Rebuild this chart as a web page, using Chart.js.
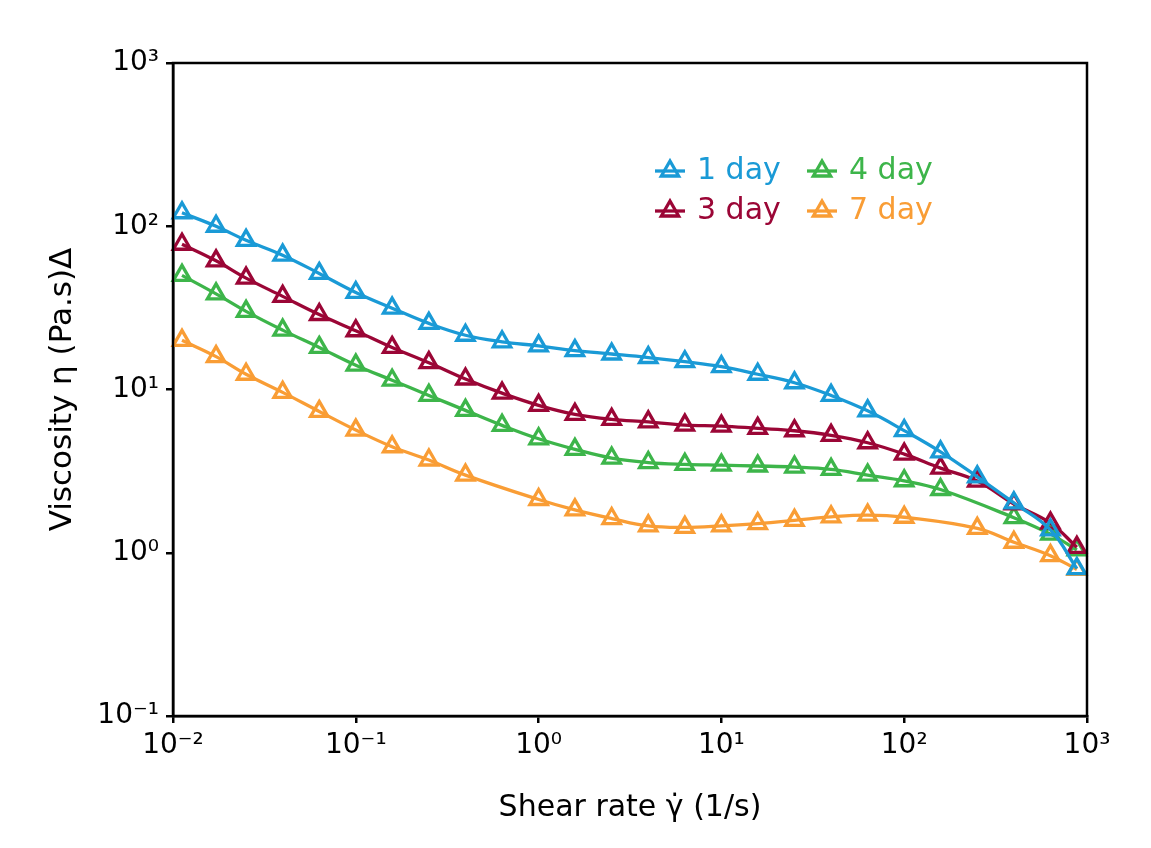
<!DOCTYPE html>
<html>
<head>
<meta charset="utf-8">
<title>Viscosity vs shear rate</title>
<script src="https://cdn.jsdelivr.net/npm/chart.js@4.4.1/dist/chart.umd.min.js"></script>
<style>
  html, body { margin: 0; padding: 0; background: #ffffff; }
  #wrap { width: 1151px; height: 848px; }
</style>
</head>
<body>
<div id="wrap"><canvas id="graficoviscosidade" width="1151" height="848"></canvas></div>
<script>
// shear rate (1/s) shared by all series; null = no measured point there
const shearRate = [0.0112, 0.0172, 0.0251, 0.0398, 0.0631, 0.1, 0.158, 0.251, 0.398, 0.631,
    1, 1.58, 2.51, 3.98, 6.31, 10, 15.8, 25.1, 39.8, 63.1,
    100, 158, 251, 398, 631, 880];

const day1 = [121, 100, 82, 66.5, 51.4, 39.3, 31.5, 25.4, 21.5, 19.6,
    18.5, 17.3, 16.5, 15.7, 14.8, 13.8, 12.4, 11.0, 9.2, 7.4,
    5.6, 4.15, 2.92, 2.02, 1.38, 0.80];
const day3 = [77.6, 61.4, 48.1, 37.2, 28.8, 22.9, 18.1, 14.6, 11.6, 9.5,
    8.0, 7.04, 6.56, 6.34, 6.05, 5.97, 5.78, 5.59, 5.24, 4.72,
    4.02, 3.3, 2.75, 1.99, 1.52, 1.08];
const day4 = [50, 38.5, 30.1, 23.1, 18.1, 14.1, 11.4, 9.2, 7.45, 6.03,
    4.99, 4.30, 3.80, 3.57, 3.48, 3.44, 3.40, 3.35, 3.24, 2.99,
    2.76, 2.44, null, 1.64, 1.30, 1.04];
const day7 = [20, 15.9, 12.4, 9.6, 7.34, 5.64, 4.46, 3.70, 2.99, null,
    2.12, 1.83, 1.62, 1.46, 1.43, 1.46, 1.51, 1.58, 1.66, 1.70,
    1.65, null, 1.41, 1.16, 0.96, 0.79];

const seriesLabels = ["1 day", "3 day", "4 day", "7 day"];
const seriesColors = ["#1a9ad6", "#9b0636", "#3db54a", "#f99d35"];

const xTicks = [0.01, 0.1, 1, 10, 100, 1000];
const xTickLabels = ["10⁻²", "10⁻¹", "10⁰", "10¹", "10²", "10³"];
const yTicks = [0.1, 1, 10, 100, 1000];
const yTickLabels = ["10⁻¹", "10⁰", "10¹", "10²", "10³"];

const fonte = "'DejaVu Sans', sans-serif";

function montarSerie(valores, i) {
    return {
        label: seriesLabels[i],
        data: shearRate.map((x, k) => ({ x: x, y: valores[k] })),
        borderColor: seriesColors[i],
        backgroundColor: "rgba(0,0,0,0)",
        borderWidth: 3.3,
        pointStyle: "triangle",
        pointRadius: 10,
        pointBorderWidth: 3.3,
        pointBackgroundColor: "rgba(0,0,0,0)",
        tension: 0.4,
        spanGaps: true,
        clip: false
    };
}

// 2x2 legend inside the plot, like the original
const legendaPlugin = {
    id: "legendaGrade",
    afterDraw(chart) {
        const ctx = chart.ctx;
        const cols = [655, 807];
        const rows = [171, 211];
        // [row, col] per series: 1 day, 3 day, 4 day, 7 day
        const slots = [[0, 0], [1, 0], [0, 1], [1, 1]];
        ctx.save();
        slots.forEach((s, i) => {
            const x = cols[s[1]];
            const y = rows[s[0]];
            ctx.strokeStyle = seriesColors[i];
            ctx.lineWidth = 3.3;
            ctx.beginPath();
            ctx.moveTo(x, y);
            ctx.lineTo(x + 30, y);
            ctx.stroke();
            ctx.fillStyle = "rgba(0,0,0,0)";
            Chart.helpers.drawPoint(ctx, { pointStyle: "triangle", radius: 10, borderWidth: 3.3 }, x + 15, y);
            ctx.fillStyle = seriesColors[i];
            ctx.font = "30px " + fonte;
            ctx.textBaseline = "middle";
            ctx.textAlign = "left";
            ctx.fillText(seriesLabels[i], x + 42, y);
        });
        ctx.restore();
    }
};

const moldura = {
    id: "moldura",
    afterDraw(chart) {
        const a = chart.chartArea;
        const ctx = chart.ctx;
        ctx.save();
        ctx.strokeStyle = "#000";
        ctx.lineWidth = 2.5;
        ctx.strokeRect(a.left, a.top, a.right - a.left, a.bottom - a.top);
        ctx.restore();
    }
};

const ctx = document.getElementById("graficoviscosidade").getContext("2d");
new Chart(ctx, {
    type: "line",
    data: {
        datasets: [day1, day3, day4, day7].map(montarSerie)
    },
    options: {
        responsive: false,
        animation: false,
        devicePixelRatio: 1,
        layout: { padding: { left: 0, top: 63, right: 64, bottom: 0 } },
        plugins: {
            legend: { display: false },
            tooltip: { enabled: false }
        },
        scales: {
            x: {
                type: "logarithmic",
                position: "bottom",
                min: 0.01,
                max: 1000,
                afterBuildTicks: s => { s.ticks = xTicks.map(v => ({ value: v })); },
                afterFit: s => { s.height = 132; },
                grid: { drawOnChartArea: false, drawTicks: true, tickLength: 7, color: "#000", lineWidth: 2.5 },
                border: { display: true, color: "#000", width: 2.5 },
                ticks: {
                    color: "#000",
                    font: { family: fonte, size: 28 },
                    padding: 6,
                    autoSkip: false,
                    maxRotation: 0,
                    callback: (v, i) => xTickLabels[i]
                },
                title: {
                    display: true,
                    text: "Shear rate γ̇ (1/s)",
                    color: "#000",
                    font: { family: fonte, size: 30 },
                    padding: { top: 0, bottom: 22 }
                }
            },
            y: {
                type: "logarithmic",
                position: "left",
                min: 0.1,
                max: 1000,
                afterBuildTicks: s => { s.ticks = yTicks.map(v => ({ value: v })); },
                afterFit: s => { s.width = 173; },
                grid: { drawOnChartArea: false, drawTicks: true, tickLength: 7, color: "#000", lineWidth: 2.5 },
                border: { display: true, color: "#000", width: 2.5 },
                ticks: {
                    color: "#000",
                    font: { family: fonte, size: 28 },
                    padding: 7,
                    autoSkip: false,
                    callback: (v, i) => yTickLabels[i]
                },
                title: {
                    display: true,
                    text: "Viscosity η (Pa.s)Δ",
                    color: "#000",
                    font: { family: fonte, size: 31 },
                    padding: { top: 44, bottom: 0 }
                }
            }
        }
    },
    plugins: [legendaPlugin, moldura]
});
</script>
</body>
</html>
